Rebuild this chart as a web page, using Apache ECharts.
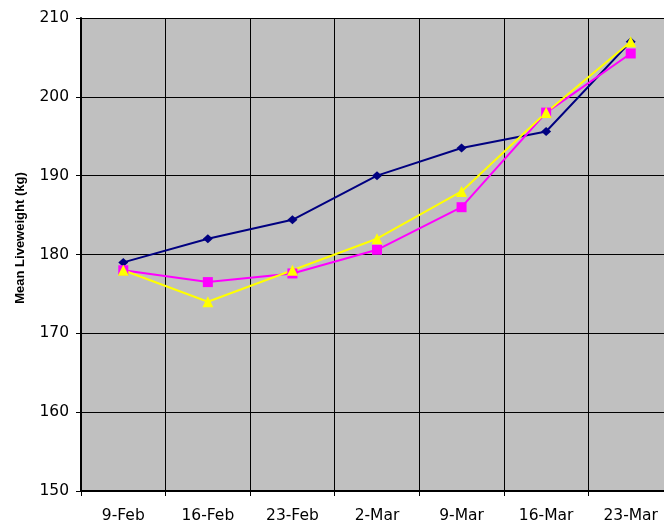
<!DOCTYPE html>
<html>
<head>
<meta charset="utf-8">
<script src="https://cdn.jsdelivr.net/npm/echarts@6/dist/echarts.min.js"></script>
<style>html,body{margin:0;padding:0;background:#fff;overflow:hidden}#c{width:664px;height:520px}</style>
</head>
<body>
<div id="c"></div>
<script>
var categories = ['9-Feb','16-Feb','23-Feb','2-Mar','9-Mar','16-Mar','23-Mar'];
var seriesBlue = [179, 182, 184.4, 190, 193.5, 195.6, 207];
var seriesMagenta = [178, 176.5, 177.6, 180.6, 186, 198, 205.5];
var seriesYellow = [178, 174, 178, 182, 188, 198, 207];
var yTicks = [150, 160, 170, 180, 190, 200, 210];

var chart = echarts.init(document.getElementById('c'), null, {renderer:'canvas'});
var tickFont = 'DejaVu Sans, sans-serif';
chart.setOption({
  animation: false,
  grid: {left: 81, top: 18, bottom: 29, width: 592, outerBoundsMode: 'none', containLabel: false,
         show: true, backgroundColor: '#c0c0c0', borderWidth: 0},
  xAxis: {
    type: 'category', data: categories, boundaryGap: true,
    axisLine: {lineStyle: {color: '#000', width: 2}},
    axisTick: {show: true, length: 5, lineStyle: {color: '#000'}},
    axisLabel: {color: '#000', fontSize: 15.5, fontFamily: tickFont, margin: 17},
    splitLine: {show: true, lineStyle: {color: '#000', width: 1}}
  },
  yAxis: {
    type: 'value', min: yTicks[0], max: yTicks[yTicks.length-1], interval: 10,
    name: 'Mean Liveweight (kg)', nameLocation: 'middle', nameGap: 54, nameRotate: 90,
    nameTextStyle: {fontSize: 13, fontWeight: 'bold', fontFamily: 'Liberation Sans, Arial, sans-serif', color: '#000', padding: [0, 0, 0, 33]},
    axisLine: {show: true, lineStyle: {color: '#000', width: 2}},
    axisTick: {show: true, length: 5, lineStyle: {color: '#000'}},
    axisLabel: {color: '#000', fontSize: 15.5, fontFamily: tickFont, margin: 12},
    splitLine: {show: true, lineStyle: {color: '#000', width: 1}}
  },
  series: [
    {type: 'line', data: seriesBlue, symbol: 'diamond', symbolSize: [10, 9],
     lineStyle: {color: '#000080', width: 2}, itemStyle: {color: '#000080'}},
    {type: 'line', data: seriesMagenta, symbol: 'rect', symbolSize: 10,
     lineStyle: {color: '#ff00ff', width: 2}, itemStyle: {color: '#ff00ff'}},
    {type: 'line', data: seriesYellow, symbol: 'triangle', symbolSize: 11,
     lineStyle: {color: '#ffff00', width: 2}, itemStyle: {color: '#ffff00'}}
  ]
});
</script>
</body>
</html>
